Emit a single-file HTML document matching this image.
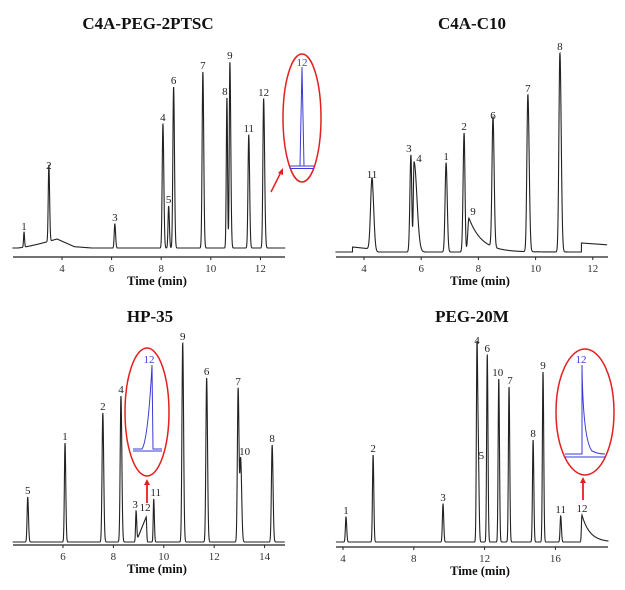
<!DOCTYPE html>
<html><head><meta charset="utf-8"><style>
html,body{margin:0;padding:0;background:#fff;}
svg text{font-family:"Liberation Serif",serif;}
</style></head><body>
<svg id="fig" width="625" height="585" viewBox="0 0 625 585" xmlns="http://www.w3.org/2000/svg">
<g id="root"></g>
<g>
  <ellipse cx="302" cy="118" rx="19" ry="64" fill="none" stroke="#e32020" stroke-width="1.5"/>
  <path d="M290,166 L314,166 M290,168.5 L314,168.5 M300,166 L302,67 L304,166" fill="none" stroke="#3a3ad8" stroke-width="1"/>
  <text x="302" y="66" text-anchor="middle" font-size="11" fill="#3a3ad8">12</text>
  <line x1="271" y1="192" x2="281" y2="172" stroke="#e32020" stroke-width="1.5"/>
  <path d="M283,168 L278,173 L283,175 Z" fill="#e32020"/>
</g>
<g>
  <ellipse cx="147" cy="412" rx="22" ry="64" fill="none" stroke="#e32020" stroke-width="1.5"/>
  <path d="M133,451 L162,451 M133,449 L142,449 Q148,440 152,365 L153,449 L162,449" fill="none" stroke="#3a3ad8" stroke-width="1"/>
  <text x="149" y="363" text-anchor="middle" font-size="11" fill="#3a3ad8">12</text>
  <line x1="147" y1="503" x2="147" y2="484" stroke="#e32020" stroke-width="1.8"/>
  <path d="M147,479 L144,485 L150,485 Z" fill="#e32020"/>
</g>
<g>
  <ellipse cx="585" cy="412" rx="29" ry="63" fill="none" stroke="#e32020" stroke-width="1.5"/>
  <path d="M565,457 L605,457 M565,454 L582,454 L582,365 Q583,440 592,451 Q598,454 605,454" fill="none" stroke="#3a3ad8" stroke-width="1"/>
  <text x="581" y="363" text-anchor="middle" font-size="11" fill="#3a3ad8">12</text>
  <line x1="583" y1="500" x2="583" y2="482" stroke="#e32020" stroke-width="1.8"/>
  <path d="M583,477 L580,483 L586,483 Z" fill="#e32020"/>
</g>
</svg>
<script>
// Panel 1: C4A-PEG-2PTSC
const p1Times   = [2.47, 3.47, 6.13, 8.07, 8.30, 8.50, 9.68, 10.65, 10.77, 11.53, 12.13];
const p1Heights = [15, 76, 24, 124, 42, 161, 176, 150, 186, 113, 149];
const p1Labels  = ["1","2","3","4","5","6","7","8","9","11","12"];
const p1SigL    = [0.02,0.025,0.025,0.03,0.025,0.03,0.03,0.025,0.025,0.03,0.03];
const p1SigR    = [0.02,0.03,0.03,0.035,0.03,0.035,0.035,0.025,0.035,0.035,0.04];
const p1Ticks   = [4, 6, 8, 10, 12];
// Panel 2: C4A-C10
const p2Times   = [4.28, 5.64, 5.75, 6.87, 7.50, 7.67, 8.51, 9.73, 10.85];
const p2Heights = [71, 97, 90, 89, 119, 34, 130, 157, 199];
const p2Labels  = ["11","3","4","1","2","9","6","7","8"];
const p2SigL    = [0.05,0.035,0.025,0.035,0.035,0.04,0.035,0.035,0.035];
const p2SigR    = [0.06,0.03,0.1,0.04,0.03,0.45,0.04,0.045,0.045];
const p2Ticks   = [4, 6, 8, 10, 12];
// Panel 3: HP-35
const p3Times   = [4.60, 6.08, 7.58, 8.30, 8.90, 9.30, 9.60, 10.75, 11.70, 12.95, 13.05, 14.30];
const p3Heights = [45, 99, 129, 146, 31, 25, 43, 199, 164, 154, 82, 97];
const p3Labels  = ["5","1","2","4","3","12","11","9","6","7","10","8"];
const p3SigL    = [0.025,0.025,0.03,0.03,0.02,0.4,0.02,0.03,0.03,0.03,0.03,0.03];
const p3SigR    = [0.03,0.03,0.035,0.035,0.025,0.02,0.025,0.035,0.035,0.035,0.04,0.035];
const p3Ticks   = [6, 8, 10, 12, 14];
// Panel 4: PEG-20M
const p4Times   = [4.17, 5.70, 9.65, 11.57, 11.65, 12.15, 12.80, 13.38, 14.74, 15.30, 16.30, 17.50];
const p4Heights = [25, 87, 38, 195, 75, 187, 163, 155, 102, 170, 26, 27];
const p4Labels  = ["1","2","3","4","5","6","10","7","8","9","11","12"];
const p4SigL    = [0.035,0.035,0.035,0.035,0.035,0.035,0.035,0.035,0.035,0.035,0.035,0.03];
const p4SigR    = [0.04,0.04,0.04,0.04,0.04,0.04,0.04,0.04,0.04,0.04,0.04,0.45];
const p4Ticks   = [4, 8, 12, 16];

const NS = "http://www.w3.org/2000/svg";
const root = document.getElementById("root");
function mk(tag, attrs, parent){
  const e = document.createElementNS(NS, tag);
  for (const k in attrs) e.setAttribute(k, attrs[k]);
  (parent||root).appendChild(e);
  return e;
}
function txt(s, attrs, parent){ const e = mk("text", attrs, parent); e.textContent = s; return e; }

const panels = [
  {name:"c4a-peg-2ptsc", title:"C4A-PEG-2PTSC", tx:148, ty:29, t0:2.0, t1:13.0, x0:62, xt0:4, ppm:24.8, base:248, axY:257, axL:13, axR:285,
   times:p1Times, heights:p1Heights, labels:p1Labels, sigL:p1SigL, sigR:p1SigR, ticks:p1Ticks,
   bl:function(t){ let b=0; if(t>2.2&&t<3.8) b=9*Math.pow((t-2.2)/1.6,1.3); else if(t>=3.8&&t<4.5) b=9-11*(t-3.8); else if(t>=4.5&&t<5.2) b=1.3-1.3*(t-4.5)/0.7; return b; }},
  {name:"c4a-c10", title:"C4A-C10", tx:472, ty:29, t0:3.0, t1:12.5, x0:364, xt0:4, ppm:28.6, base:252, axY:257, axL:336, axR:608,
   times:p2Times, heights:p2Heights, labels:p2Labels, sigL:p2SigL, sigR:p2SigR, ticks:p2Ticks,
   bl:function(t){ let b=0; if(t>3.6&&t<4.2) b=5-3*(t-3.6); else if(t>=4.2&&t<4.3) b=3; if(t>11.6) b=9-2*(t-11.6); return b; }},
  {name:"hp-35", title:"HP-35", tx:150, ty:322, t0:4.0, t1:14.8, x0:63, xt0:6, ppm:25.2, base:542, axY:545, axL:13, axR:285,
   times:p3Times, heights:p3Heights, labels:p3Labels, sigL:p3SigL, sigR:p3SigR, ticks:p3Ticks,
   bl:function(t){ return 0; }},
  {name:"peg-20m", title:"PEG-20M", tx:472, ty:322, t0:3.6, t1:19.0, x0:343, xt0:4, ppm:17.7, base:542, axY:547, axL:336, axR:608,
   times:p4Times, heights:p4Heights, labels:p4Labels, sigL:p4SigL, sigR:p4SigR, ticks:p4Ticks,
   bl:function(t){ return 0; }}
];

panels.forEach(function(p){
  const g = mk("g", {});
  
  
  const xs = function(t){ return p.x0 + (t - p.xt0) * p.ppm; };
  const ys = function(v){ return p.base - v; };
  const tt = txt(p.title, {x:p.tx, y:p.ty, "text-anchor":"middle", "font-size":"17", "font-weight":"bold", fill:"#111"}, g);
  
  
  let d = "";
  for (let t = p.t0; t <= p.t1; t += 0.004) {
    let v = p.bl(t);
    for (let i = 0; i < p.times.length; i++) {
      const dt = t - p.times[i];
      if (p.sigR[i] > 0.2 && dt > 0) { v += p.heights[i] * Math.exp(-dt / p.sigR[i]); continue; }
      if (p.sigL[i] > 0.2 && dt < 0) { v += Math.max(0, p.heights[i] * (1 + dt / p.sigL[i])); continue; }
      const s = dt < 0 ? p.sigL[i] : p.sigR[i];
      v += p.heights[i] * Math.exp(-dt*dt/(2*s*s));
    }
    d += (d ? "L" : "M") + xs(t).toFixed(2) + "," + ys(v).toFixed(2);
  }
  const tr = mk("path", {d:d, fill:"none", stroke:"#222", "stroke-width":"1.1"}, g);
  
  
  for (let i = 0; i < p.times.length; i++) {
    let lx = xs(p.times[i]), ly = ys(p.heights[i]) - 3;
    if (p.name === "c4a-c10" && p.labels[i] === "4") { lx += 5; ly += 3; }
    if (p.name === "c4a-c10" && p.labels[i] === "3") { lx -= 2; }
    if (p.name === "c4a-c10" && p.labels[i] === "9") { lx += 4; }
    if (p.name === "c4a-peg-2ptsc" && p.labels[i] === "8") { lx -= 2; }
    if (p.name === "hp-35" && p.labels[i] === "12") { lx -= 1; ly -= 3; }
    if (p.name === "hp-35" && p.labels[i] === "11") { lx += 2; }
    if (p.name === "hp-35" && p.labels[i] === "10") { lx += 4; ly -= 2; }
    if (p.name === "hp-35" && p.labels[i] === "3") { lx -= 1; }
    if (p.name === "peg-20m" && p.labels[i] === "5") { lx += 3; ly -= 5; }
    if (p.name === "peg-20m" && p.labels[i] === "10") { lx -= 1; }
    if (p.name === "peg-20m" && p.labels[i] === "7") { lx += 1; }
    const lb = txt(p.labels[i], {x:lx, y:ly, "text-anchor":"middle", "font-size":"11", fill:"#222"}, g);
    
    
  }
  const ax = mk("line", {x1:p.axL, y1:p.axY, x2:p.axR, y2:p.axY, stroke:"#222", "stroke-width":"1.3"}, g);
  
  
  p.ticks.forEach(function(tk){
    const x = xs(tk);
    const tl = mk("line", {x1:x, y1:p.axY, x2:x, y2:p.axY+3, stroke:"#222", "stroke-width":"1"}, g);
    
    
    const t2 = txt(String(tk), {x:x, y:p.axY+15, "text-anchor":"middle", "font-size":"11", fill:"#333"}, g);
    
    
  });
  const xt = txt("Time (min)", {x:(p.axL+p.axR)/2+8, y:p.axY+28, "text-anchor":"middle", "font-size":"12.5", "font-weight":"bold", fill:"#111"}, g);
  
  
});
</script>
</body></html>
